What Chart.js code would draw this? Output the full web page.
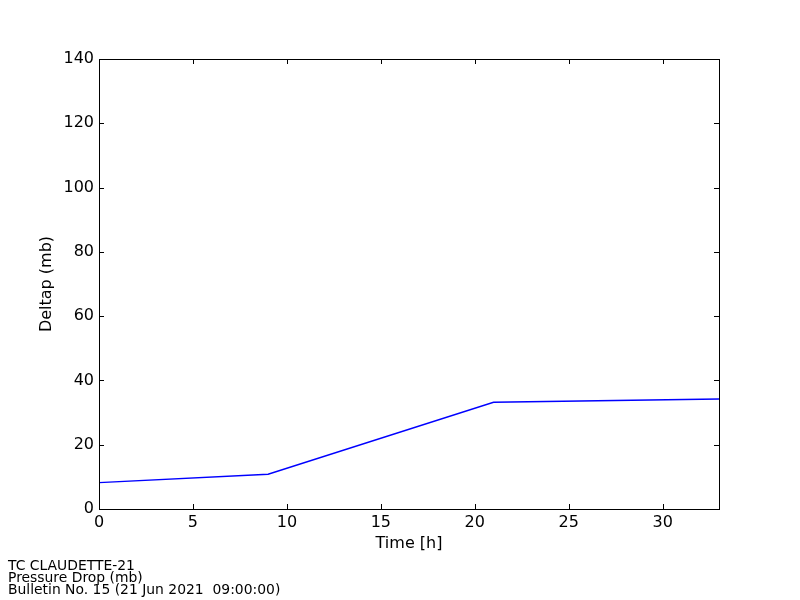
<!DOCTYPE html>
<html>
<head>
<meta charset="utf-8">
<script src="https://cdn.jsdelivr.net/npm/chart.js@4.4.1/dist/chart.umd.min.js"></script>
<style>
  html, body { margin: 0; padding: 0; background: #fff; }
  #wrap { position: relative; width: 800px; height: 600px; }
  canvas { position: absolute; left: 0; top: 0; }
  #foot { position: absolute; left: 8px; top: 559px; font-family: "DejaVu Sans", sans-serif; font-size: 13.9px; line-height: 12px; color: #000; }
</style>
</head>
<body>
<div id="wrap">
  <canvas id="c" width="800" height="600"></canvas>
  <div id="foot">TC CLAUDETTE-21<br>Pressure Drop (mb)<br>Bulletin No. 15 (21 Jun 2021&nbsp; 09:00:00)</div>
</div>
<script>
const timeHours = [0, 9, 21, 33];
const deltap = [8.2, 10.8, 33.2, 34.2];
const xTitle = "Time [h]";
const yTitle = "Deltap (mb)";

const boxTicks = {
  id: 'boxTicks',
  afterDraw(chart) {
    const ctx = chart.ctx, a = chart.chartArea;
    const xs = chart.scales.x, ys = chart.scales.y;
    const L = 5;
    ctx.save();
    ctx.strokeStyle = '#000';
    ctx.lineWidth = 1;
    ctx.beginPath();
    xs.ticks.forEach(t => {
      const px = Math.round(xs.getPixelForValue(t.value)) + 0.5;
      ctx.moveTo(px, a.bottom); ctx.lineTo(px, a.bottom - L);
      ctx.moveTo(px, a.top); ctx.lineTo(px, a.top + L);
    });
    ys.ticks.forEach(t => {
      const py = Math.round(ys.getPixelForValue(t.value)) + 0.5;
      ctx.moveTo(a.left, py); ctx.lineTo(a.left + L, py);
      ctx.moveTo(a.right, py); ctx.lineTo(a.right - L, py);
    });
    ctx.stroke();
    ctx.strokeRect(Math.round(a.left) + 0.5, Math.round(a.top) + 0.5, Math.round(a.right - a.left), Math.round(a.bottom - a.top));
    ctx.restore();
  }
};

const font = { family: '"DejaVu Sans", sans-serif', size: 16 };

new Chart(document.getElementById('c'), {
  type: 'line',
  data: {
    datasets: [{
      data: timeHours.map((t, i) => ({ x: t, y: deltap[i] })),
      borderColor: '#0000ff',
      borderWidth: 1.4,
      pointRadius: 0,
      fill: false,
      tension: 0
    }]
  },
  options: {
    responsive: false,
    animation: false,
    devicePixelRatio: 1,
    layout: { padding: { left: 0, top: 59, right: 81, bottom: 0 } },
    plugins: { legend: { display: false }, tooltip: { enabled: false } },
    scales: {
      x: {
        type: 'linear', min: 0, max: 33,
        grid: { display: false, drawTicks: false },
        border: { display: false },
        ticks: { stepSize: 5, includeBounds: false, padding: 4, color: '#000', font, maxRotation: 0 },
        title: { display: true, text: xTitle, color: '#000', font, padding: { top: 0, bottom: 47 } },
        afterFit(s) { s.height = 91; }
      },
      y: {
        type: 'linear', min: 0, max: 140,
        grid: { display: false, drawTicks: false },
        border: { display: false },
        ticks: { stepSize: 20, padding: 5, color: '#000', font },
        title: { display: true, text: yTitle, color: '#000', font, padding: { top: 37, bottom: 0 } },
        afterFit(s) { s.width = 99; }
      }
    }
  },
  plugins: [boxTicks]
});
</script>
</body>
</html>
